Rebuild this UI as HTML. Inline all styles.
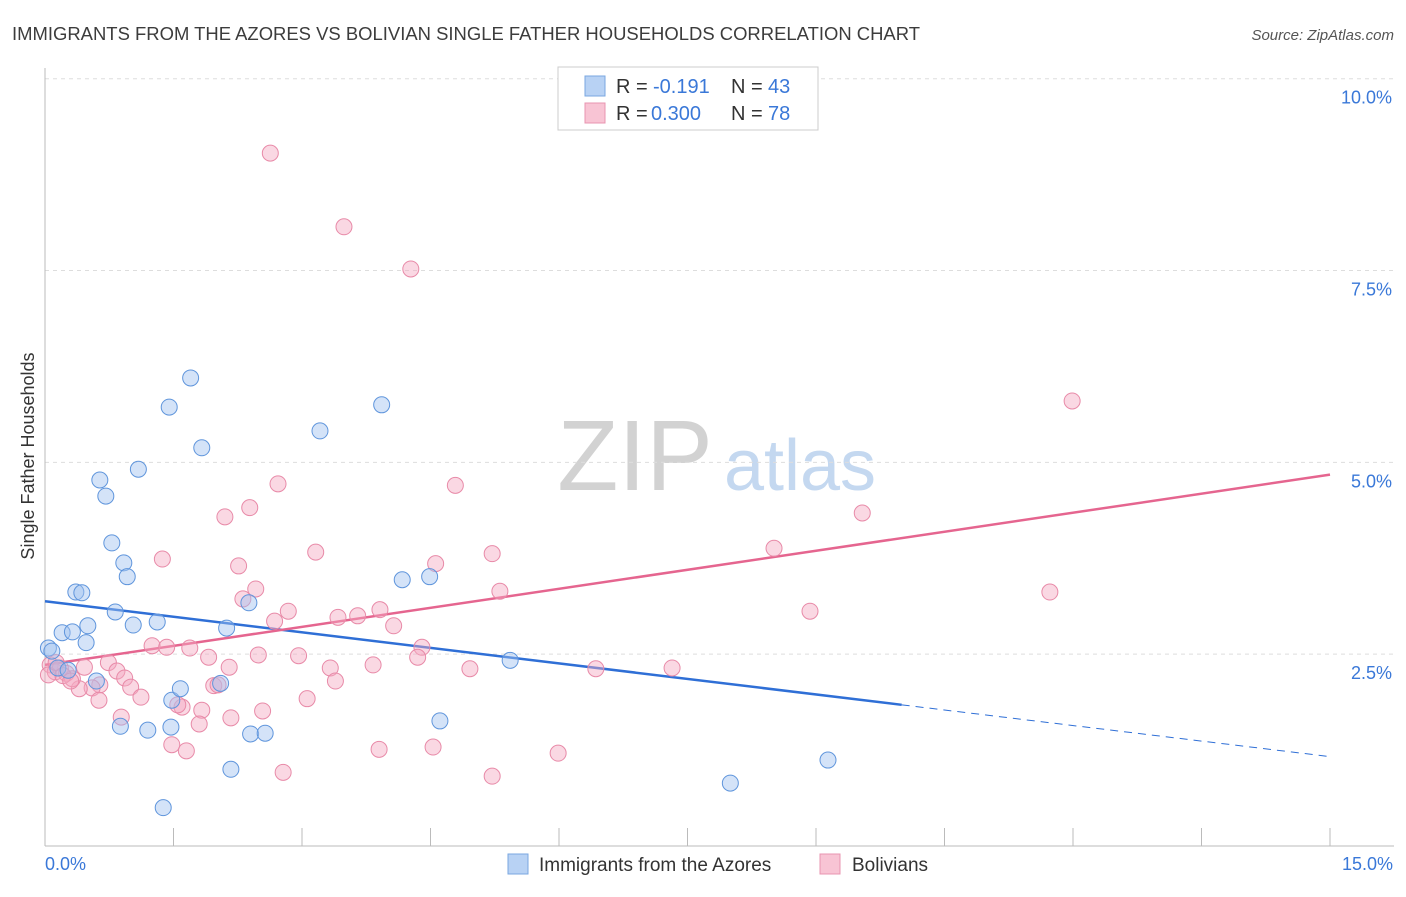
<!DOCTYPE html>
<html><head><meta charset="utf-8">
<style>
body{margin:0;background:#fff;font-family:"Liberation Sans",sans-serif;}
svg text{font-family:"Liberation Sans",sans-serif;}
</style></head>
<body>
<svg id="chart" width="1406" height="892" viewBox="0 0 1406 892" xmlns="http://www.w3.org/2000/svg">
<text x="12" y="40" font-size="18" fill="#3c3c3c" textLength="908" lengthAdjust="spacingAndGlyphs">IMMIGRANTS FROM THE AZORES VS BOLIVIAN SINGLE FATHER HOUSEHOLDS CORRELATION CHART</text>
<text x="1394" y="40" font-size="15" fill="#555" text-anchor="end" font-style="italic">Source: ZipAtlas.com</text>
<g>
<text x="635" y="490" font-size="100" fill="#d2d2d2" font-family="Liberation Serif,serif" text-anchor="middle">ZIP</text>
<text x="800" y="490" font-size="72" fill="#c4d8f0" text-anchor="middle">atlas</text>
</g>
<g id="grid"></g>
<g id="axes"></g>
<g id="lines"></g>
<g id="points"></g>
<text transform="translate(34,456) rotate(-90)" font-size="18" fill="#333" text-anchor="middle">Single Father Households</text>
<g>
<rect x="558" y="67" width="260" height="63" fill="#fff" stroke="#ccc"/>
<rect x="585" y="76" width="20" height="20" fill="#b8d2f4" stroke="#7aa7e0"/>
<text x="616" y="93" font-size="20" fill="#333">R =</text>
<text x="653" y="93" font-size="20" fill="#3a78d8">-0.191</text>
<text x="731" y="93" font-size="20" fill="#333">N =</text>
<text x="768" y="93" font-size="20" fill="#3a78d8">43</text>
<rect x="585" y="103" width="20" height="20" fill="#f8c4d4" stroke="#e894b0"/>
<text x="616" y="120" font-size="20" fill="#333">R =</text>
<text x="651" y="120" font-size="20" fill="#3a78d8">0.300</text>
<text x="731" y="120" font-size="20" fill="#333">N =</text>
<text x="768" y="120" font-size="20" fill="#3a78d8">78</text>
</g>
<g>
<rect x="508" y="854" width="20" height="20" fill="#b8d2f4" stroke="#7aa7e0"/>
<text x="539" y="871" font-size="19" fill="#333">Immigrants from the Azores</text>
<rect x="820" y="854" width="20" height="20" fill="#f8c4d4" stroke="#e894b0"/>
<text x="852" y="871" font-size="19" fill="#333">Bolivians</text>
</g>
</svg>
<script>
const yTicks=[2.5,5.0,7.5,10.0];
const yTickLabels=["2.5%","5.0%","7.5%","10.0%"];
const xTickCount=10;
const xMin=0,xMax=15,yMin=0;
const blueX=[0.04,0.08,0.20,0.32,0.36,0.43,0.50,0.48,0.64,0.71,0.78,0.82,0.92,0.96,1.03,1.09,0.88,1.20,1.31,1.45,1.48,1.47,1.58,1.70,1.83,1.38,2.12,2.05,2.17,2.38,2.40,2.57,3.21,3.93,4.17,4.49,4.61,5.43,8.00,9.14,0.15,0.27,0.60];
const blueY=[2.58,2.54,2.78,2.79,3.31,3.30,2.87,2.65,4.77,4.56,3.95,3.05,3.69,3.51,2.88,4.91,1.56,1.51,2.92,5.72,1.90,1.55,2.05,6.10,5.19,0.50,2.84,2.12,1.00,3.17,1.46,1.47,5.41,5.75,3.47,3.51,1.63,2.42,0.82,1.12,2.32,2.29,2.15];
const pinkX=[2.63,3.49,4.27,11.99,2.72,4.79,2.39,2.10,9.54,3.16,5.22,1.37,2.26,4.56,8.51,2.46,2.31,5.31,11.73,2.84,2.68,3.42,3.65,3.91,4.07,8.93,1.25,1.42,1.69,1.91,2.49,2.96,4.40,4.35,3.33,3.83,4.96,6.43,7.32,2.15,0.74,0.84,0.46,0.93,1.00,0.64,0.55,0.40,1.12,3.39,1.97,2.02,0.63,3.06,1.60,1.55,2.54,1.83,0.89,2.17,1.80,1.48,1.65,3.90,4.53,5.99,2.78,5.22,0.06,0.12,0.18,0.25,0.32,0.04,0.13,0.21,0.30];
const pinkY=[9.03,8.07,7.52,5.80,4.72,4.70,4.41,4.29,4.34,3.83,3.81,3.74,3.65,3.68,3.88,3.35,3.22,3.32,3.31,3.06,2.93,2.98,3.00,3.08,2.87,3.06,2.61,2.59,2.58,2.46,2.49,2.48,2.59,2.46,2.32,2.36,2.31,2.31,2.32,2.33,2.39,2.28,2.33,2.19,2.07,2.10,2.06,2.05,1.94,2.15,2.09,2.10,1.90,1.92,1.81,1.84,1.76,1.77,1.68,1.67,1.59,1.32,1.24,1.26,1.29,1.21,0.96,0.91,2.36,2.27,2.32,2.25,2.18,2.23,2.39,2.22,2.15];
const blueLine=[3.19,-0.135]; // intercept, slope
const blueSolidEnd=10.0;
const pinkLine=[2.36,0.1653];

const X0=45,X1=1330,Y0=846,PXY=76.73;
const sx=v=>X0+(v-xMin)/(xMax-xMin)*(X1-X0);
const sy=v=>Y0-(v-yMin)*PXY;
const NS="http://www.w3.org/2000/svg";
function mk(tag,attrs,parent){const e=document.createElementNS(NS,tag);for(const k in attrs)e.setAttribute(k,attrs[k]);parent.appendChild(e);return e;}
const grid=document.getElementById('grid'),axes=document.getElementById('axes'),lines=document.getElementById('lines'),pts=document.getElementById('points');
yTicks.forEach((t,i)=>{
 const l=mk('line',{x1:45,x2:1394,y1:sy(t),y2:sy(t),stroke:'#ddd','stroke-dasharray':'4,4'},grid);
 
 
 const tx=mk('text',{x:1392,y:sy(t)+25,'font-size':18,fill:'#3a78d8','text-anchor':'end'},axes);
 tx.textContent=yTickLabels[i];
 
 
});
const ax=mk('line',{x1:45,x2:45,y1:68,y2:846,stroke:'#bbb'},axes);


const bx=mk('line',{x1:45,x2:1394,y1:846,y2:846,stroke:'#bbb'},axes);


for(let i=1;i<=xTickCount;i++){
 const v=xMin+i*(xMax-xMin)/xTickCount;
 const t=mk('line',{x1:sx(v),x2:sx(v),y1:828,y2:846,stroke:'#bbb'},axes);
 
 
}
const xl0=mk('text',{x:45,y:870,'font-size':18,fill:'#3a78d8'},axes);xl0.textContent=xMin.toFixed(1)+'%';


const xl1=mk('text',{x:1393,y:870,'font-size':18,fill:'#3a78d8','text-anchor':'end'},axes);xl1.textContent=xMax.toFixed(1)+'%';


function drawPts(xs,ys,fill,stroke,name){xs.forEach((x,i)=>{
 const c=mk('circle',{cx:sx(x),cy:sy(ys[i]),r:8,fill:fill,'fill-opacity':0.45,stroke:stroke,'stroke-width':1},pts);
 
 
});}
drawPts(pinkX,pinkY,'#f5a9c0','#e88aa8','bolivians-point');
drawPts(blueX,blueY,'#9fc2f0','#5f95dc','azores-point');
const bl=v=>blueLine[0]+blueLine[1]*v, pl=v=>pinkLine[0]+pinkLine[1]*v;
const b1=mk('line',{x1:sx(0),y1:sy(bl(0)),x2:sx(blueSolidEnd),y2:sy(bl(blueSolidEnd)),stroke:'#2f6fd6','stroke-width':2.5},lines);


const b2=mk('line',{x1:sx(blueSolidEnd),y1:sy(bl(blueSolidEnd)),x2:sx(15),y2:sy(bl(15)),stroke:'#2f6fd6','stroke-width':1,'stroke-dasharray':'8,6'},lines);


const p1=mk('line',{x1:sx(0),y1:sy(pl(0)),x2:sx(15),y2:sy(pl(15)),stroke:'#e5658f','stroke-width':2.5},lines);


</script>
</body></html>
